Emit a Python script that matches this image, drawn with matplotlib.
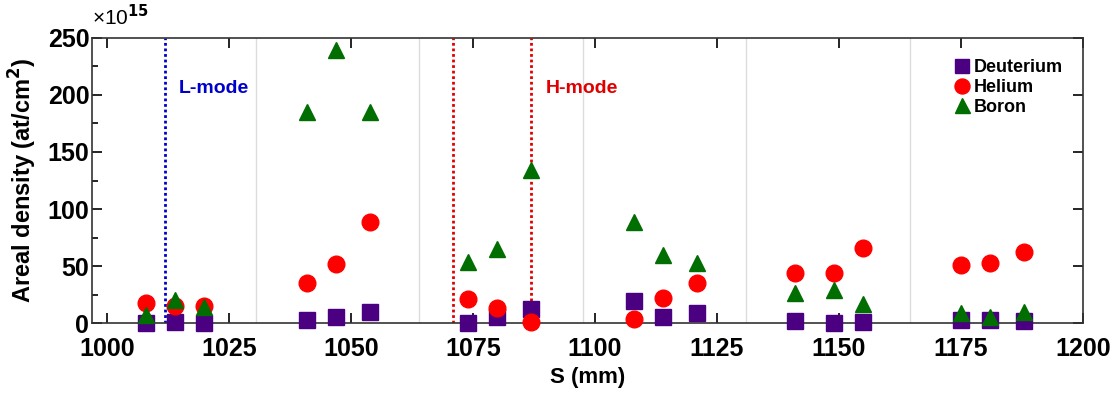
import numpy as np
import matplotlib
matplotlib.use('Agg')
import matplotlib.pyplot as plt
from matplotlib.ticker import MultipleLocator

plt.rcParams['font.family'] = ['Liberation Sans', 'DejaVu Sans']
plt.rcParams['font.weight'] = 'bold'

# positions along the target (mm)
s_pos = [1008, 1014, 1020, 1041, 1047, 1054, 1074, 1080, 1087,
         1108, 1114, 1121, 1141, 1149, 1155, 1175, 1181, 1188]
# areal densities in units of 1e15 at/cm2
deuterium = [0, 1, 0, 2.6, 5, 9.5, 0.3, 5, 12, 19, 5.5, 9, 2, 0, 1, 3, 3, 2]
helium = [18, 15, 15, 35, 52, 89, 21.5, 13, 1, 4, 22, 35, 44, 44, 65.5, 51, 53, 62.5]
boron = [7, 20, 14, 185, 239, 185, 54, 65, 134, 89, 60, 53, 26, 29, 17, 8.5, 5.5, 10]

separators = [1030.5, 1064, 1097.5, 1131, 1164.5]
lmode_line = 1012
hmode_lines = [1071, 1087]

fig = plt.figure(figsize=(11.13, 3.95), dpi=100)
ax = fig.add_axes([0.0827, 0.182, 0.8903, 0.722])

for xs in separators:
    ax.axvline(xs, color='#dcdcdc', lw=1, zorder=0)
ax.axvline(lmode_line, color='#0000cc', lw=2, ls=(0, (1, 1)), zorder=1)
for xh in hmode_lines:
    ax.axvline(xh, color='#e00000', lw=2, ls=(0, (1, 1)), zorder=1)

ax.plot(s_pos, deuterium, 's', color='#4b0082', ms=11, mec='#4b0082', label='Deuterium', zorder=3, clip_on=False)
ax.plot(s_pos, helium, 'o', color='#ff0000', ms=12, mec='#ff0000', label='Helium', zorder=3, clip_on=False)
ax.plot(s_pos, boron, '^', color='#006e00', ms=12, mec='#006e00', label='Boron', zorder=3, clip_on=False)

ax.text(1014.7, 206, 'L-mode', color='#0000cc', fontsize=14, fontweight='bold', va='center')
ax.text(1090, 206, 'H-mode', color='#e00000', fontsize=14, fontweight='bold', va='center')
ax.text(0.0, 1.03, '×10$^{\\mathbf{15}}$', transform=ax.transAxes, fontsize=15,
        fontweight='normal', ha='left', va='bottom')

ax.set_xlim(997, 1200)
ax.set_ylim(0, 250)
ax.xaxis.set_major_locator(MultipleLocator(25))
ax.yaxis.set_major_locator(MultipleLocator(50))
ax.yaxis.set_minor_locator(MultipleLocator(25))

ax.tick_params(which='both', direction='in', top=True, right=True, labelsize=18, width=1.2)
ax.tick_params(axis='x', pad=10)
ax.tick_params(axis='y', pad=2)
ax.tick_params(which='major', length=7)
ax.tick_params(which='minor', length=4, right=False)
for sp in ax.spines.values():
    sp.set_linewidth(1.2)
    sp.set_color('#333333')

ax.set_xlabel('S (mm)', fontsize=16, fontweight='bold', labelpad=4)
ax.set_ylabel('Areal density (at/cm$^\\mathbf{2}$)', fontsize=17, fontweight='bold', labelpad=6)

ax.legend(loc='upper right', bbox_to_anchor=(0.993, 0.97), frameon=False, fontsize=13,
          handletextpad=0.1, labelspacing=0.15, handlelength=1.2, borderpad=0.2, markerscale=0.9)

fig.savefig('out.png', dpi=100)
